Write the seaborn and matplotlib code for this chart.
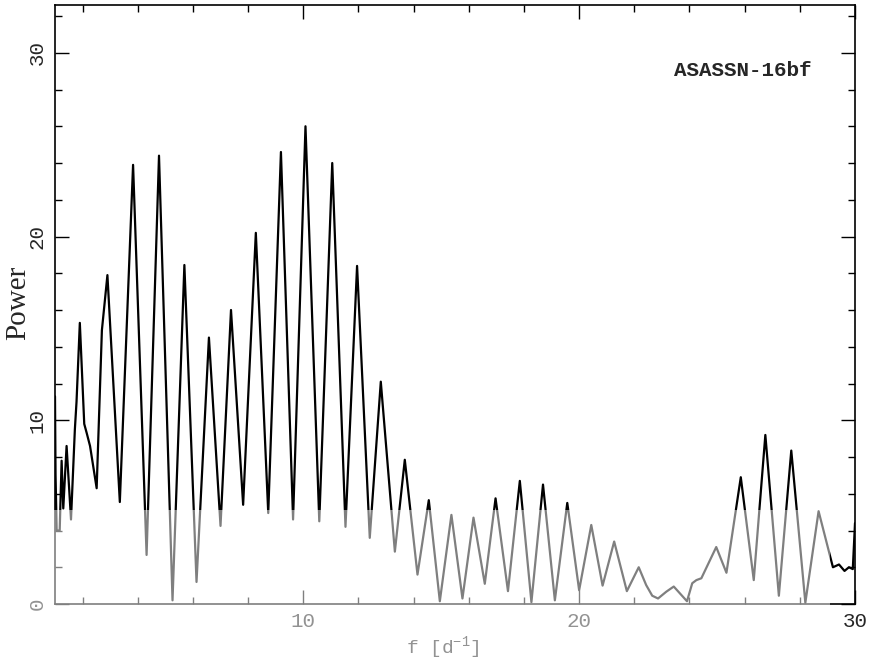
import matplotlib
matplotlib.use("Agg")
import matplotlib.pyplot as plt
from matplotlib.ticker import MultipleLocator
from matplotlib.patches import Rectangle
import seaborn as sns
import pandas as pd

# ---- data ----
freq = [1.00, 1.02, 1.06, 1.17, 1.24, 1.30, 1.42, 1.58, 1.72, 1.78, 1.90,
        2.06, 2.15, 2.27, 2.51, 2.70, 2.90, 3.35, 3.83, 4.32, 4.77, 5.26,
        5.69, 6.13, 6.58, 7.00, 7.38, 7.82, 8.28, 8.73, 9.19, 9.63, 10.08,
        10.58, 11.05, 11.53, 11.95, 12.41, 12.81, 13.32, 13.68, 14.14, 14.55,
        14.95, 15.37, 15.77, 16.17, 16.58, 16.97, 17.42, 17.85, 18.27, 18.69,
        19.12, 19.57, 20.00, 20.44, 20.85, 21.27, 21.73, 22.16, 22.43, 22.65,
        22.86, 23.16, 23.43, 23.91, 24.10, 24.25, 24.43, 24.97, 25.34, 25.86,
        26.33, 26.75, 27.24, 27.69, 28.20, 28.68, 29.20, 29.42, 29.62, 29.78,
        29.92, 30.00]
power = [11.3, 7.0, 4.0, 4.0, 7.8, 5.2, 8.6, 4.6, 9.5, 11.0, 15.3,
         9.8, 9.3, 8.6, 6.3, 14.9, 17.9, 5.55, 23.9, 2.67, 24.4, 0.2,
         18.45, 1.2, 14.5, 4.25, 16.0, 5.4, 20.2, 4.95, 24.6, 4.6, 26.0,
         4.5, 24.0, 4.2, 18.4, 3.6, 12.1, 2.85, 7.85, 1.6, 5.65,
         0.15, 4.85, 0.3, 4.7, 1.1, 5.75, 0.7, 6.7, 0.1, 6.5,
         0.2, 5.5, 0.75, 4.3, 1.0, 3.4, 0.7, 2.0, 1.03, 0.45,
         0.3, 0.67, 0.95, 0.15, 1.13, 1.3, 1.4, 3.1, 1.7, 6.9,
         1.3, 9.2, 0.45, 8.35, 0.07, 5.05, 2.0, 2.15, 1.8, 2.0,
         1.9, 4.4]

label_star = "ASASSN-16bf"
x_major = [10, 20, 30]
y_major = [0, 10, 20, 30]

df = pd.DataFrame({"f": freq, "Power": power})

sns.set_theme(style="ticks")
plt.rcParams["font.family"] = ["Liberation Mono", "DejaVu Sans Mono"]
plt.rcParams["mathtext.fontset"] = "custom"
plt.rcParams["mathtext.rm"] = "Liberation Mono"
plt.rcParams["mathtext.it"] = "Liberation Mono"
plt.rcParams["mathtext.default"] = "rm"

fig = plt.figure(figsize=(8.71, 6.66), dpi=100)
ax = fig.add_axes([55 / 871, 62 / 666, 800 / 871, 599 / 666])

sns.lineplot(data=df, x="f", y="Power", ax=ax, color="black", lw=1.6,
             estimator=None, sort=False)

ax.set_xlim(1, 30)
ax.set_ylim(0, 32.6)
ax.set_xticks(x_major)
ax.set_yticks(y_major)
ax.xaxis.set_minor_locator(MultipleLocator(2))
ax.yaxis.set_minor_locator(MultipleLocator(2))
ax.tick_params(which="both", direction="in", top=True, right=True,
               color="black", width=1.0)
ax.tick_params(which="major", length=10, labelsize=15)
ax.tick_params(axis="x", which="major", pad=6)
ax.tick_params(axis="y", which="major", pad=6)
ax.tick_params(which="minor", length=5)
for lab in ax.get_yticklabels():
    lab.set_rotation(90)
    lab.set_va("center")
for s in ax.spines.values():
    s.set_color("black")
    s.set_linewidth(1.2)

ax.set_xlabel(r"f [d$^{-1}$]", fontsize=14)
ax.xaxis.set_label_coords((443 - 55) / 800, (604 - 634) / 599)
ax.set_ylabel("Power", fontsize=21, family=["Liberation Serif", "DejaVu Serif"])
ax.yaxis.set_label_coords((31 - 55) / 800, (604 - 303) / 599)

ax.text((743 - 55) / 800, (604 - 70) / 599, label_star, transform=ax.transAxes,
        ha="center", va="center", fontsize=15, fontweight="bold",
        family=["Liberation Mono", "DejaVu Sans Mono"])

# faded lower band of the scanned figure
fig.patches.append(Rectangle((0, 0), 830 / 871, (666 - 510) / 666,
                             transform=fig.transFigure, facecolor="white",
                             edgecolor="none", alpha=0.5, zorder=10))

fig.savefig("out.png", dpi=100)
